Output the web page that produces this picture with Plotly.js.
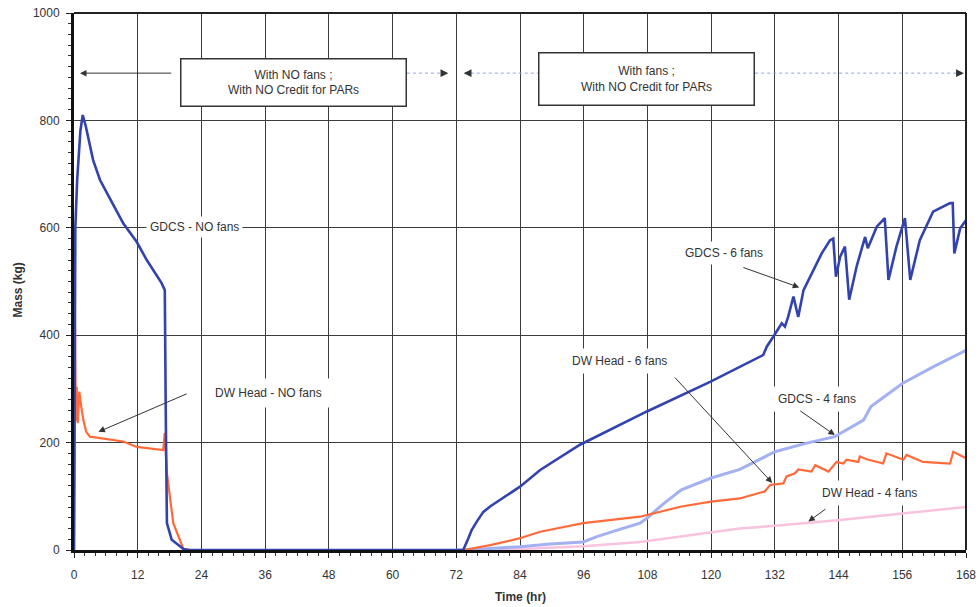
<!DOCTYPE html>
<html>
<head>
<meta charset="utf-8">
<script src="https://cdn.plot.ly/plotly-3.0.1.min.js"></script>
<style>html,body{margin:0;padding:0;background:#fff;}#chart{width:980px;height:607px;}</style>
</head>
<body>
<div id="chart"></div>
<script>
// ---- data (hours, kg) ----
const xTicks = [0, 12, 24, 36, 48, 60, 72, 84, 96, 108, 120, 132, 144, 156, 168];
const yTicks = [0, 200, 400, 600, 800, 1000];

const tGdcsNoFans = [0, 0.1, 0.25, 0.6, 1.2, 1.64, 2.2, 3.6, 4.9, 7.0, 9.3, 11.8, 13.7, 16.5, 17.1, 17.3, 17.5, 18.4, 20.6, 21.5, 72];
const mGdcsNoFans = [0, 300, 600, 690, 780, 810, 790, 726, 689, 650, 608, 574, 540, 497, 484, 236, 50, 19, 2, 0, 0];

const tDwNoFans = [0, 0.2, 0.35, 0.5, 0.7, 1.0, 1.45, 1.8, 2.3, 3.0, 9.3, 11.8, 16.8, 17.1, 17.5, 18.7, 20.6, 22];
const mDwNoFans = [0, 416, 240, 304, 236, 295, 261, 240, 220, 211, 202, 192, 186, 218, 143, 50, 2, 0];

const tGdcs6 = [72, 73.3, 74.2, 74.9, 75.8, 77.1, 78.5, 80.2, 82, 84, 87.8, 95.3, 107.9, 119.8, 129.8, 130.5, 131.7, 133.3, 133.9, 134.5, 135.5, 136.4, 137.4, 139.2, 140.8, 142.4, 143.0, 143.5, 144.3, 145.2, 146.0, 147.4, 149.0, 149.5, 151.2, 152.7, 153.4, 154.9, 156.5, 157.5, 159.3, 161.8, 165.0, 165.5, 165.8, 166.9, 168];
const mGdcs6 = [0, 0, 20, 37, 52, 71, 82, 93, 106, 118, 149, 196, 258, 313, 363, 379, 397, 422, 416, 434, 472, 434, 484, 521, 552, 577, 580, 509, 546, 565, 466, 528, 583, 562, 602, 618, 503, 565, 618, 503, 577, 630, 646, 646, 552, 599, 614];

const tGdcs4 = [72, 73.8, 84, 89.7, 95.9, 98.5, 102, 106.6, 108, 111, 114.4, 120, 125.4, 132, 138, 143.3, 144.3, 148.7, 150.1, 156, 161.8, 168];
const mGdcs4 = [0, 0, 6, 11, 15, 25, 36, 50, 60, 86, 112, 134, 150, 183, 199, 211, 217, 242, 267, 310, 341, 372];

const tDw6 = [73.4, 78.4, 84, 87.8, 95.9, 106.6, 114.4, 120, 125.4, 130.1, 131.1, 133.6, 134.2, 135.8, 136.4, 138.9, 139.6, 142.1, 143.6, 144.9, 145.5, 147.7, 148, 149.3, 152.4, 153, 156.2, 156.8, 159.9, 165, 165.6, 167.5, 168];
const mDw6 = [0, 9, 22, 34, 50, 62, 81, 90, 96, 109, 121, 124, 137, 143, 150, 146, 158, 146, 164, 161, 168, 164, 174, 169, 161, 180, 168, 177, 164, 161, 183, 174, 171];

const tDw4 = [80, 87.8, 95.9, 106.6, 114, 120, 125.4, 132, 138, 144.3, 156, 168];
const mDw4 = [0, 4, 7, 15, 25, 33, 40, 45, 50, 56, 68, 80];

// ---- styles ----
const FONT = "Liberation Sans, Arial, sans-serif";
const DARKBLUE = "#3343ad";
const ORANGE = "#ff6a3a";
const LIGHTBLUE = "#a3b1f2";
const PINK = "#f9c3df";

function tr(x, y, color, width) {
  return {x: x, y: y, type: "scatter", mode: "lines", line: {color: color, width: width}, hoverinfo: "skip", showlegend: false};
}

const traces = [
  tr(tDw4, mDw4, PINK, 2.5),
  tr(tGdcs4, mGdcs4, LIGHTBLUE, 3),
  tr(tDw6, mDw6, ORANGE, 2.2),
  tr(tGdcs6, mGdcs6, DARKBLUE, 2.6),
  tr(tDwNoFans, mDwNoFans, ORANGE, 2.2),
  tr(tGdcsNoFans, mGdcsNoFans, DARKBLUE, 2.6)
];

const txtFont = {family: FONT, size: 12, color: "#333"};

function label(text, x, y, pad) {
  return {x: x, y: y, xref: "x", yref: "y", text: text, showarrow: false, font: txtFont, bgcolor: "#fff", borderpad: pad};
}
function arrow(x, y, ax, ay) {
  return {x: x, y: y, ax: ax, ay: ay, xref: "x", yref: "y", axref: "x", ayref: "y", text: "", showarrow: true,
          arrowhead: 2, arrowsize: 1.3, arrowwidth: 1, arrowcolor: "#333"};
}
function head(x, y, dir) {
  return {x: x, y: y, xref: "x", yref: "y", ax: -5 * dir, ay: 0, text: "", showarrow: true,
          arrowhead: 2, arrowsize: 1.3, arrowwidth: 1.2, arrowcolor: "#333"};
}

const annotations = [
  {x: 41.4, y: 870, xref: "x", yref: "y", text: "With NO fans ;<br>With NO Credit for PARs", showarrow: false,
   font: txtFont, bgcolor: "#fff", bordercolor: "#333", borderwidth: 1.5, width: 222, height: 44, borderpad: 1},
  {x: 107.9, y: 877, xref: "x", yref: "y", text: "With fans ;<br>With NO Credit for PARs", showarrow: false,
   font: txtFont, bgcolor: "#fff", bordercolor: "#333", borderwidth: 1.5, width: 212, height: 49, borderpad: 1},
  arrow(1.13, 888, 18.6, 888),
  head(70.5, 888, 1),
  head(73.4, 888, -1),
  head(167.6, 888, 1),
  label("GDCS - NO fans", 22.6, 601, 3),
  label("DW Head - NO fans", 36.7, 292, 7),
  arrow(4.6, 220, 21.5, 292),
  label("GDCS - 6 fans", 122.4, 554, 4),
  arrow(136.6, 489, 125.8, 527),
  label("DW Head - 6 fans", 102.8, 352, 5),
  arrow(131.5, 125, 112.9, 324),
  label("GDCS - 4 fans", 140.0, 281, 5),
  arrow(143.3, 214, 136.5, 261),
  label("DW Head - 4 fans", 149.9, 106, 5),
  arrow(138.3, 53, 141.8, 78),
  {x: 0.5, y: -0.088, xref: "paper", yref: "paper", text: "<b>Time (hr)</b>", showarrow: false,
   font: {family: FONT, size: 12, color: "#333"}, yanchor: "middle"},
  {x: -0.0628, y: 0.485, xref: "paper", yref: "paper", text: "<b>Mass (kg)</b>", showarrow: false, textangle: -90,
   font: {family: FONT, size: 12, color: "#333"}, xanchor: "center", yanchor: "middle"}
];

const dotLine = {color: "#90a4e6", width: 1, dash: "dot"};
const shapes = [
  {type: "line", xref: "x", yref: "y", x0: 62.7, x1: 70.3, y0: 888, y1: 888, line: dotLine, layer: "above"},
  {type: "line", xref: "x", yref: "y", x0: 73.6, x1: 87.6, y0: 888, y1: 888, line: dotLine, layer: "above"},
  {type: "line", xref: "x", yref: "y", x0: 128.3, x1: 167.4, y0: 888, y1: 888, line: dotLine, layer: "above"},
  {type: "line", xref: "paper", yref: "paper", x0: 0, x1: 1, y0: 1, y1: 1, line: {color: "#222", width: 2}},
  {type: "line", xref: "paper", yref: "paper", x0: 1, x1: 1, y0: 0, y1: 1, line: {color: "#222", width: 2}}
];

const axisCommon = {
  ticks: "outside", ticklen: 5, tickcolor: "#222", tickwidth: 1,
  showgrid: true, gridcolor: "#3c3c3c", gridwidth: 1,
  showline: true, linecolor: "#111", linewidth: 3,
  zeroline: false, tickfont: {family: FONT, size: 12, color: "#333"}
};

const layout = {
  width: 980, height: 607,
  margin: {l: 74, r: 14, t: 13, b: 57},
  paper_bgcolor: "#fff", plot_bgcolor: "#fff",
  hovermode: false,
  xaxis: Object.assign({}, axisCommon, {range: [0, 168], tickvals: xTicks, ticktext: xTicks.map(String),
    ticklabelstandoff: 7,
    minor: {dtick: 2, ticks: "outside", ticklen: 3, tickcolor: "#333", showgrid: false}}),
  yaxis: Object.assign({}, axisCommon, {range: [0, 1000], tickvals: yTicks, ticktext: yTicks.map(String),
    ticklabelstandoff: 4,
    minor: {dtick: 20, ticks: "outside", ticklen: 3, tickcolor: "#333", showgrid: false}}),
  annotations: annotations,
  shapes: shapes,
  showlegend: false
};

Plotly.newPlot("chart", traces, layout, {staticPlot: true, displayModeBar: false});
</script>
</body>
</html>
